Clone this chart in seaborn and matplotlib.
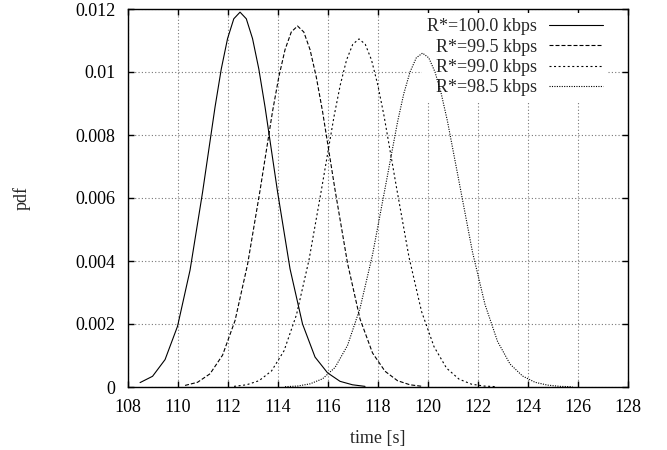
import matplotlib
matplotlib.use("Agg")
import matplotlib.pyplot as plt
import seaborn as sns

# values
t_100 = [108.48, 108.98, 109.48, 109.98, 110.48, 110.98, 111.48, 111.73, 111.98, 112.23,
         112.48, 112.73, 112.98, 113.23, 113.48, 113.98, 114.48, 114.98, 115.48, 115.98,
         116.48, 116.98, 117.48]
pdf_100 = [0.00014, 0.00034, 0.00087, 0.00193, 0.00371, 0.00618, 0.00889, 0.01010, 0.01106, 0.01169,
           0.01190, 0.01169, 0.01106, 0.01010, 0.00889, 0.00620, 0.00375, 0.00200, 0.00095, 0.00045,
           0.00018, 0.00007, 0.00002]

t_995 = [110.28, 110.78, 111.28, 111.78, 112.28, 112.78, 113.28, 113.78, 114.03, 114.28,
         114.53, 114.78, 115.03, 115.28, 115.53, 115.78, 116.28, 116.78, 117.28, 117.78,
         118.28, 118.78, 119.28, 119.78]
pdf_995 = [0.00005, 0.00015, 0.00042, 0.00101, 0.00211, 0.00389, 0.00624, 0.00875, 0.00984, 0.01071,
           0.01127, 0.01146, 0.01127, 0.01071, 0.00984, 0.00875, 0.00626, 0.00393, 0.00216, 0.00108,
           0.00050, 0.00020, 0.00007, 0.00002]

t_990 = [112.24, 112.74, 113.24, 113.74, 114.24, 114.74, 115.24, 115.74, 116.24, 116.49,
         116.74, 116.99, 117.24, 117.49, 117.74, 117.99, 118.24, 118.74, 119.24, 119.74,
         120.24, 120.74, 121.24, 121.74, 122.24, 122.74]
pdf_990 = [0.00002, 0.00007, 0.00020, 0.00051, 0.00115, 0.00230, 0.00404, 0.00628, 0.00859, 0.00959,
           0.01038, 0.01088, 0.01105, 0.01088, 0.01038, 0.00959, 0.00861, 0.00633, 0.00412, 0.00240,
           0.00128, 0.00060, 0.00025, 0.00009, 0.00003, 0.00001]

t_985 = [114.28, 114.78, 115.28, 115.78, 116.28, 116.78, 117.28, 117.78, 118.28, 118.78,
         119.03, 119.28, 119.53, 119.78, 120.03, 120.28, 120.53, 120.78, 121.28, 121.78,
         122.28, 122.78, 123.28, 123.78, 124.28, 124.78, 125.28, 125.78]
pdf_985 = [0.00001, 0.00003, 0.00010, 0.00026, 0.00062, 0.00132, 0.00250, 0.00420, 0.00630, 0.00841,
           0.00931, 0.01000, 0.01045, 0.01060, 0.01045, 0.01000, 0.00931, 0.00843, 0.00636, 0.00428,
           0.00262, 0.00145, 0.00073, 0.00035, 0.00015, 0.00006, 0.00002, 0.00001]

labels = ["R*=100.0 kbps", "R*=99.5 kbps", "R*=99.0 kbps", "R*=98.5 kbps"]
x_ticks = [108, 110, 112, 114, 116, 118, 120, 122, 124, 126, 128]
y_ticks = [0, 0.002, 0.004, 0.006, 0.008, 0.01, 0.012]
y_tick_labels = ["0", "0.002", "0.004", "0.006", "0.008", "0.01", "0.012"]

sns.set_style("ticks")
plt.rcParams["font.family"] = ["Liberation Serif", "DejaVu Serif"]
plt.rcParams["font.size"] = 13

fig = plt.figure(figsize=(6.67, 4.5), dpi=100)
ax = fig.add_axes([0.192, 0.14, 0.7495, 0.84])

styles = ["-", (0, (3.6, 1.8)), (0, (1.8, 2.3)), (0, (1.0, 1.2))]
series = [(t_100, pdf_100), (t_995, pdf_995), (t_990, pdf_990), (t_985, pdf_985)]
for (t, p), lab, ls in zip(series, labels, styles):
    sns.lineplot(x=t, y=p, ax=ax, color="black", lw=0.8, linestyle=ls,
                 label=lab, sort=False, estimator=None)

ax.set_xlim(108, 128)
ax.set_ylim(0, 0.012)
ax.set_xticks(x_ticks)
ax.set_yticks(y_ticks)
ax.set_yticklabels(y_tick_labels)
ax.tick_params(direction="in", top=True, right=True, length=4, width=1,
               pad=9, labelsize=13, colors="black")
for sp in ax.spines.values():
    sp.set_linewidth(1.0)
    sp.set_color("black")

ax.set_axisbelow(True)
ax.grid(True, color="#777777", linestyle=(0, (1, 2)), linewidth=0.8)

ax.set_xlabel("time [s]", fontsize=13, labelpad=10)
ax.set_ylabel("pdf", fontsize=13, labelpad=32)

leg = ax.legend(loc="upper right", bbox_to_anchor=(0.961, 0.99), markerfirst=False,
                frameon=True, fancybox=False, edgecolor="none", facecolor="white",
                framealpha=1, fontsize=13, handlelength=3.0, handletextpad=0.65,
                labelspacing=0.19, borderpad=0.3, borderaxespad=0)
leg.set_zorder(1)

fig.savefig("out.png", dpi=100)
